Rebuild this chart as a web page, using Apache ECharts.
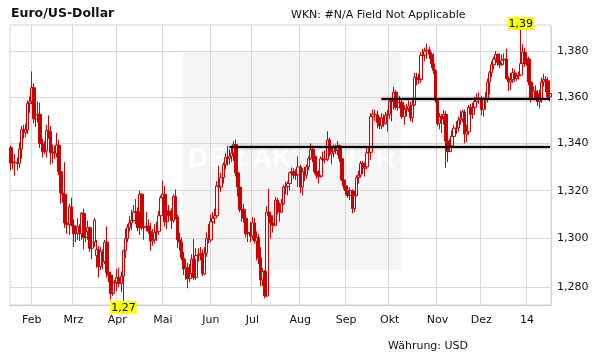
<!DOCTYPE html>
<html><head><meta charset="utf-8">
<script src="https://cdn.jsdelivr.net/npm/echarts@6/dist/echarts.min.js"></script>
<style>html,body{margin:0;padding:0;background:#fff}#c{width:611px;height:364px}</style>
</head><body><div id="c"></div><script>
// first trading day shown; the category axis holds consecutive weekdays
const startDate = '2013-01-18';
// month tick labels in order of the month boundaries on the axis
const monthTickLabels = ['Feb','Mrz','Apr','Mai','Jun','Jul','Aug','Sep','Okt','Nov','Dez','14'];
// y axis tick values (log scale)
const yTicks = [1.28, 1.30, 1.32, 1.34, 1.36, 1.38];
const Y_MIN = 1.2728, Y_MAX = 1.3915;

// daily candles: [open, close, low, high]
const jan13 = [
[1.3382,1.3317,1.3285,1.3392],[1.3317,1.3320,1.3290,1.3345],[1.3320,1.3318,1.3263,1.3355],
[1.3318,1.3315,1.3285,1.3340],[1.3315,1.3376,1.3295,1.3405],[1.3376,1.3459,1.3335,1.3475],
[1.3459,1.3446,1.3420,1.3480],[1.3446,1.3458,1.3425,1.3485],[1.3458,1.3572,1.3440,1.3585],
[1.3572,1.3579,1.3530,1.3602]];
const feb13 = [
[1.3579,1.3640,1.3570,1.3711],[1.3640,1.3505,1.3485,1.3660],[1.3505,1.3523,1.3470,1.3550],
[1.3523,1.3525,1.3490,1.3580],[1.3525,1.3400,1.3380,1.3575],[1.3400,1.3365,1.3340,1.3420],
[1.3365,1.3368,1.3355,1.3410],[1.3368,1.3455,1.3340,1.3480],[1.3455,1.3450,1.3420,1.3520],
[1.3450,1.3361,1.3310,1.3475],[1.3361,1.3363,1.3315,1.3395],[1.3363,1.3358,1.3335,1.3390],
[1.3358,1.3393,1.3340,1.3445],[1.3393,1.3280,1.3265,1.3415],[1.3280,1.3190,1.3145,1.3290],
[1.3190,1.3185,1.3150,1.3235],[1.3185,1.3065,1.3045,1.3320],[1.3065,1.3058,1.3020,1.3095],
[1.3058,1.3132,1.3015,1.3145],[1.3132,1.3055,1.3050,1.3170]];
const mar13 = [
[1.3055,1.3020,1.2965,1.3080],[1.3020,1.3022,1.2985,1.3055],[1.3022,1.3050,1.2995,1.3085],
[1.3050,1.3020,1.2990,1.3060],[1.3020,1.3105,1.2995,1.3110],[1.3105,1.3005,1.2955,1.3125],
[1.3005,1.3030,1.2985,1.3060],[1.3030,1.3045,1.2995,1.3075],[1.3045,1.2960,1.2945,1.3050],
[1.2960,1.2985,1.2915,1.3010],[1.2985,1.3075,1.2965,1.3085],[1.2930,1.2955,1.2880,1.2995],
[1.2955,1.2885,1.2840,1.2970],[1.2885,1.2945,1.2870,1.2965],[1.2945,1.2905,1.2875,1.2955],
[1.2905,1.2985,1.2895,1.2995],[1.2985,1.2860,1.2840,1.3050],[1.2860,1.2850,1.2820,1.2890],
[1.2850,1.2775,1.2750,1.2865],[1.2775,1.2820,1.2765,1.2850],[1.2820,1.2818,1.2805,1.2830]];
const apr13 = [
[1.2818,1.2840,1.2785,1.2875],[1.2840,1.2815,1.2800,1.2880],[1.2815,1.2845,1.2780,1.2865],
[1.2845,1.2950,1.2745,1.2955],[1.2950,1.3000,1.2920,1.3040],[1.3000,1.3045,1.2985,1.3060],
[1.3045,1.3065,1.3030,1.3095],[1.3065,1.3075,1.3035,1.3120],[1.3075,1.3110,1.3070,1.3140],
[1.3110,1.3112,1.3060,1.3165],[1.3112,1.3045,1.3030,1.3130],[1.3045,1.3185,1.3015,1.3200],
[1.3185,1.3045,1.3035,1.3190],[1.3045,1.3050,1.2995,1.3095],[1.3050,1.3052,1.3030,1.3110],
[1.3052,1.3030,1.3020,1.3080],[1.3030,1.2990,1.2950,1.3065],[1.2990,1.2995,1.2970,1.3040],
[1.2995,1.3025,1.2980,1.3060],[1.3025,1.3030,1.2990,1.3070],[1.3030,1.3095,1.3015,1.3115],
[1.3095,1.3170,1.3070,1.3180]];
const may13 = [
[1.3170,1.3185,1.3150,1.3243],[1.3185,1.3070,1.3050,1.3220],[1.3070,1.3115,1.3040,1.3150],
[1.3115,1.3095,1.3080,1.3140],[1.3095,1.3075,1.3040,1.3125],[1.3075,1.3175,1.3065,1.3185],
[1.3175,1.3090,1.3080,1.3205],[1.3090,1.2995,1.2960,1.3100],[1.2995,1.2985,1.2950,1.3025],
[1.2985,1.2920,1.2910,1.3005],[1.2920,1.2875,1.2850,1.2945],[1.2875,1.2880,1.2830,1.2915],
[1.2880,1.2835,1.2796,1.2900],[1.2835,1.2855,1.2820,1.2895],[1.2855,1.2915,1.2840,1.2935],
[1.2915,1.2840,1.2830,1.2998],[1.2840,1.2930,1.2830,1.2960],[1.2930,1.2935,1.2905,1.2960],
[1.2935,1.2938,1.2910,1.2965],[1.2938,1.2855,1.2845,1.2955],[1.2855,1.2940,1.2850,1.2965],
[1.2940,1.3000,1.2925,1.3025],[1.3000,1.2995,1.2980,1.3060]];
const jun13 = [
[1.2995,1.3070,1.2985,1.3100],[1.3070,1.3085,1.3035,1.3110],[1.3085,1.3095,1.3060,1.3125],
[1.3095,1.3220,1.3085,1.3240],[1.3220,1.3215,1.3160,1.3305],[1.3215,1.3255,1.3195,1.3275],
[1.3255,1.3310,1.3230,1.3320],[1.3310,1.3340,1.3290,1.3360],[1.3340,1.3335,1.3305,1.3390],
[1.3335,1.3345,1.3310,1.3375],[1.3345,1.3360,1.3320,1.3390],[1.3360,1.3395,1.3325,1.3410],
[1.3395,1.3275,1.3260,1.3416],[1.3275,1.3215,1.3175,1.3290],[1.3215,1.3120,1.3110,1.3225],
[1.3120,1.3122,1.3070,1.3185],[1.3122,1.3085,1.3065,1.3145],[1.3085,1.3020,1.3005,1.3095],
[1.3020,1.3025,1.2985,1.3075],[1.3025,1.3010,1.2985,1.3070]];
const jul13 = [
[1.3010,1.3065,1.2995,1.3090],[1.3065,1.2990,1.2980,1.3085],[1.2990,1.3005,1.2910,1.3030],
[1.3005,1.2920,1.2895,1.3020],[1.2920,1.2830,1.2805,1.2965],[1.2830,1.2865,1.2805,1.2880],
[1.2865,1.2765,1.2755,1.2870],[1.2765,1.3110,1.2760,1.3135],[1.3110,1.3095,1.3050,1.3208],
[1.3095,1.3065,1.3000,1.3105],[1.3065,1.3055,1.3025,1.3080],[1.3055,1.3160,1.3050,1.3175],
[1.3160,1.3135,1.3100,1.3170],[1.3135,1.3110,1.3070,1.3150],[1.3110,1.3145,1.3105,1.3165],
[1.3145,1.3215,1.3140,1.3225],[1.3215,1.3217,1.3185,1.3238],[1.3217,1.3230,1.3180,1.3240],
[1.3230,1.3275,1.3200,1.3280],[1.3275,1.3280,1.3245,1.3298],[1.3280,1.3265,1.3250,1.3295],
[1.3265,1.3267,1.3245,1.3290],[1.3267,1.3300,1.3215,1.3345]];
const aug13 = [
[1.3300,1.3215,1.3190,1.3310],[1.3215,1.3280,1.3180,1.3295],[1.3280,1.3265,1.3240,1.3300],
[1.3265,1.3300,1.3250,1.3310],[1.3300,1.3335,1.3285,1.3345],[1.3335,1.3375,1.3330,1.3400],
[1.3375,1.3345,1.3320,1.3390],[1.3345,1.3280,1.3270,1.3360],[1.3280,1.3265,1.3250,1.3300],
[1.3265,1.3260,1.3230,1.3285],[1.3260,1.3335,1.3255,1.3345],[1.3335,1.3330,1.3310,1.3365],
[1.3330,1.3332,1.3315,1.3370],[1.3332,1.3415,1.3325,1.3452],[1.3415,1.3355,1.3345,1.3425],
[1.3355,1.3365,1.3310,1.3385],[1.3365,1.3380,1.3340,1.3395],[1.3380,1.3370,1.3355,1.3395],
[1.3370,1.3390,1.3350,1.3410],[1.3390,1.3335,1.3320,1.3395],[1.3335,1.3245,1.3240,1.3345],
[1.3245,1.3220,1.3205,1.3265]];
const sep13 = [
[1.3220,1.3200,1.3180,1.3240],[1.3200,1.3180,1.3170,1.3220],[1.3180,1.3200,1.3160,1.3215],
[1.3200,1.3125,1.3105,1.3205],[1.3125,1.3180,1.3110,1.3200],[1.3180,1.3255,1.3175,1.3265],
[1.3255,1.3265,1.3230,1.3285],[1.3265,1.3315,1.3255,1.3325],[1.3315,1.3295,1.3270,1.3325],
[1.3295,1.3300,1.3260,1.3320],[1.3300,1.3360,1.3290,1.3385],[1.3360,1.3362,1.3330,1.3380],
[1.3362,1.3515,1.3330,1.3530],[1.3515,1.3525,1.3490,1.3545],[1.3525,1.3522,1.3495,1.3545],
[1.3522,1.3490,1.3465,1.3540],[1.3490,1.3475,1.3460,1.3515],[1.3475,1.3510,1.3460,1.3530],
[1.3510,1.3485,1.3470,1.3525],[1.3485,1.3520,1.3480,1.3535],[1.3520,1.3525,1.3450,1.3545]];
const oct13 = [
[1.3525,1.3580,1.3505,1.3590],[1.3580,1.3585,1.3495,1.3590],[1.3585,1.3620,1.3545,1.3645],
[1.3620,1.3555,1.3545,1.3630],[1.3555,1.3575,1.3540,1.3605],[1.3575,1.3577,1.3550,1.3605],
[1.3577,1.3515,1.3505,1.3590],[1.3515,1.3545,1.3480,1.3565],[1.3545,1.3550,1.3515,1.3570],
[1.3550,1.3560,1.3535,1.3585],[1.3560,1.3510,1.3495,1.3580],[1.3510,1.3565,1.3490,1.3590],
[1.3565,1.3685,1.3560,1.3705],[1.3685,1.3680,1.3650,1.3705],[1.3680,1.3675,1.3655,1.3700],
[1.3675,1.3780,1.3660,1.3795],[1.3780,1.3782,1.3740,1.3810],[1.3782,1.3800,1.3755,1.3815],
[1.3800,1.3805,1.3765,1.3832],[1.3805,1.3785,1.3765,1.3820],[1.3785,1.3745,1.3725,1.3795],
[1.3745,1.3715,1.3700,1.3790],[1.3715,1.3585,1.3575,1.3720]];
const nov13 = [
[1.3585,1.3485,1.3475,1.3590],[1.3485,1.3515,1.3460,1.3530],[1.3515,1.3505,1.3445,1.3525],
[1.3505,1.3525,1.3480,1.3545],[1.3525,1.3410,1.3295,1.3540],[1.3410,1.3365,1.3320,1.3440],
[1.3365,1.3390,1.3370,1.3420],[1.3390,1.3430,1.3380,1.3455],[1.3430,1.3465,1.3405,1.3480],
[1.3465,1.3467,1.3440,1.3495],[1.3467,1.3500,1.3450,1.3515],[1.3500,1.3505,1.3480,1.3540],
[1.3505,1.3535,1.3490,1.3545],[1.3535,1.3440,1.3400,1.3545],[1.3440,1.3450,1.3405,1.3480],
[1.3450,1.3555,1.3435,1.3565],[1.3555,1.3525,1.3495,1.3570],[1.3525,1.3555,1.3505,1.3575],
[1.3555,1.3580,1.3540,1.3600],[1.3580,1.3595,1.3555,1.3615],[1.3595,1.3590,1.3570,1.3620]];
const dec13 = [
[1.3590,1.3545,1.3520,1.3605],[1.3545,1.3590,1.3515,1.3600],[1.3590,1.3592,1.3545,1.3620],
[1.3592,1.3665,1.3575,1.3680],[1.3665,1.3705,1.3610,1.3715],[1.3705,1.3740,1.3685,1.3755],
[1.3740,1.3765,1.3720,1.3775],[1.3765,1.3785,1.3740,1.3800],[1.3785,1.3750,1.3735,1.3790],
[1.3750,1.3740,1.3725,1.3790],[1.3740,1.3760,1.3735,1.3785],[1.3760,1.3765,1.3740,1.3790],
[1.3765,1.3680,1.3675,1.3810],[1.3680,1.3665,1.3625,1.3690],[1.3665,1.3675,1.3630,1.3705],
[1.3675,1.3705,1.3660,1.3725],[1.3705,1.3680,1.3665,1.3720],[1.3680,1.3690,1.3670,1.3705],
[1.3690,1.3695,1.3675,1.3710],[1.3695,1.3745,1.3690,1.3893],[1.3745,1.3795,1.3735,1.3830],
[1.3795,1.3745,1.3730,1.3815]];
const jan14 = [
[1.3745,1.3765,1.3735,1.3790],[1.3765,1.3665,1.3650,1.3775],[1.3665,1.3590,1.3575,1.3680],
[1.3590,1.3625,1.3585,1.3645],[1.3625,1.3615,1.3595,1.3650],[1.3615,1.3580,1.3560,1.3630],
[1.3580,1.3595,1.3550,1.3630],[1.3595,1.3665,1.3575,1.3685],[1.3665,1.3675,1.3645,1.3700],
[1.3675,1.3670,1.3620,1.3690],[1.3670,1.3600,1.3590,1.3685],[1.3600,1.3615,1.3580,1.3630]];

// horizontal support / resistance lines: start date and level
const lineStarts = ['2013-06-14', '2013-09-25'];
const lineLevels = [1.3385, 1.3594];

const ohlc = [].concat(jan13, feb13, mar13, apr13, may13, jun13, jul13, aug13, sep13, oct13, nov13, dec13, jan14);

// weekday calendar for the category axis
const dates = [];
const d = new Date(startDate + 'T00:00:00Z');
while (dates.length < ohlc.length) {
  const wd = d.getUTCDay();
  if (wd !== 0 && wd !== 6) dates.push(d.toISOString().slice(0, 10));
  d.setUTCDate(d.getUTCDate() + 1);
}
const boundaryLabel = {};
let k = 0;
for (let i = 1; i < dates.length; i++) {
  if (dates[i].slice(5, 7) !== dates[i - 1].slice(5, 7)) boundaryLabel[i] = monthTickLabels[k++];
}
const isBoundary = (i) => boundaryLabel[i] !== undefined;
const lastDate = dates[dates.length - 1];

const FONT = 'DejaVu Sans';
const RED = '#d00000';
const chart = echarts.init(document.getElementById('c'));
chart.setOption({
  animation: false,
  backgroundColor: '#fff',
  title: [
    { text: 'Euro/US-Dollar', left: 11, top: 7, padding: 0,
      textStyle: { fontFamily: FONT, fontSize: 12.5, fontWeight: 'bold', color: '#111' } },
    { text: 'WKN: #N/A Field Not Applicable', left: 291, top: 10, padding: 0,
      textStyle: { fontFamily: FONT, fontSize: 11, fontWeight: 'normal', color: '#111' } },
    { text: 'Währung: USD', left: 388, top: 341, padding: 0,
      textStyle: { fontFamily: FONT, fontSize: 11, fontWeight: 'normal', color: '#111' } }
  ],
  graphic: [
    { type: 'rect', left: 183, top: 53, z: -10, silent: true,
      shape: { width: 218, height: 217 }, style: { fill: '#f5f5f5' } },
    { type: 'text', left: 188, top: 146, z: -9, silent: true,
      style: { text: 'DER AKTIONÄR', fill: '#ffffff', font: 'bold 27px "Liberation Sans"' } }
  ],
  grid: { left: 10, right: 60, top: 25, bottom: 59, show: true, borderColor: '#d4d4d4', borderWidth: 1, backgroundColor: 'transparent' },
  xAxis: {
    type: 'category', data: dates, boundaryGap: true,
    axisLine: { lineStyle: { color: '#c8c8c8' } },
    axisTick: { show: false, interval: isBoundary },
    axisLabel: { interval: isBoundary, formatter: (v, i) => boundaryLabel[i] || '',
      fontFamily: FONT, fontSize: 11, color: '#111', margin: 10 },
    splitLine: { show: true, interval: isBoundary, lineStyle: { color: '#d8d8d8', width: 1 } }
  },
  yAxis: {
    type: 'log', logBase: 10, min: Y_MIN, max: Y_MAX, position: 'right',
    axisLine: { show: false },
    axisTick: { show: false, customValues: yTicks },
    axisLabel: { customValues: yTicks, formatter: (v) => Number(v).toFixed(3).replace('.', ','),
      fontFamily: FONT, fontSize: 11, color: '#111', margin: 6 },
    splitLine: { show: true, lineStyle: { color: '#d8d8d8', width: 1 } }
  },
  series: [{
    type: 'candlestick',
    data: ohlc,
    barWidth: 3,
    itemStyle: { color: 'rgba(255,255,255,0)', color0: RED, borderColor: RED, borderColor0: RED, borderWidth: 1 },
    markPoint: {
      symbol: 'rect', symbolSize: 0, silent: true,
      label: { show: true, color: '#000', fontFamily: FONT, fontSize: 11, backgroundColor: '#ffff00',
        padding: [1, 1, 0, 1], lineHeight: 12, distance: 0,
        formatter: (p) => Number(p.value).toFixed(2).replace('.', ',') },
      data: [
        { type: 'max', valueDim: 'highest', label: { position: 'top' } },
        { type: 'min', valueDim: 'lowest', label: { position: 'bottom' } }
      ]
    },
    markLine: {
      silent: true, symbol: ['none', 'none'], label: { show: false },
      lineStyle: { color: '#000', width: 2, type: 'solid', shadowColor: 'rgba(0,0,0,0.55)', shadowBlur: 3 },
      data: lineStarts.map((s, j) => [{ coord: [s, lineLevels[j]] }, { coord: [lastDate, lineLevels[j]] }])
    }
  }]
});
</script></body></html>
